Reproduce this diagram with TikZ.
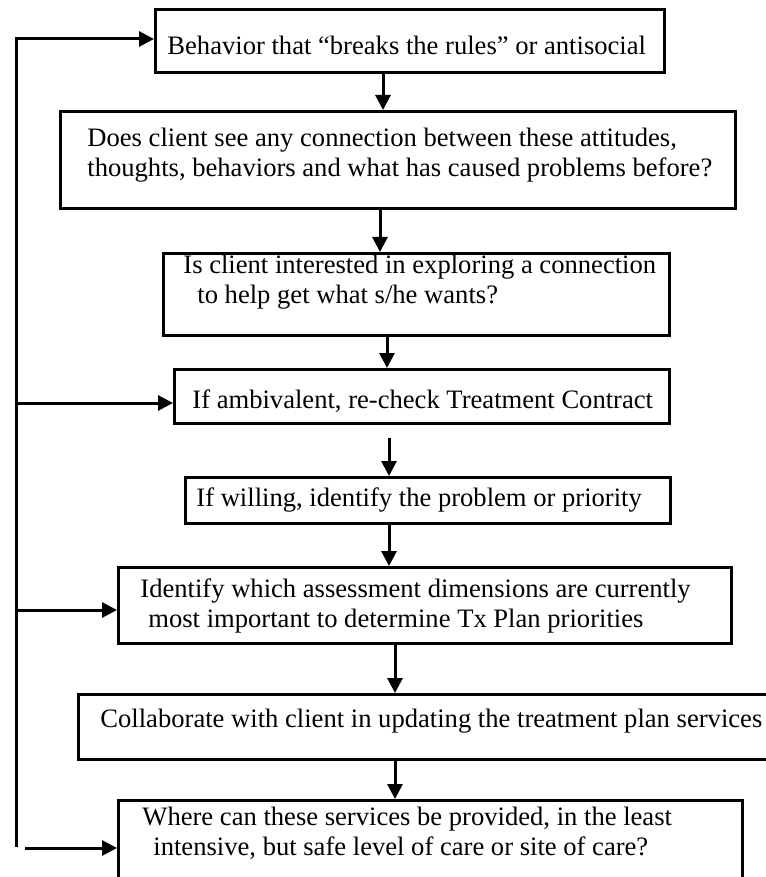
\documentclass[tikz,border=0pt]{standalone}
\usepackage{fontspec}
\setmainfont{Liberation Serif}
\usetikzlibrary{arrows.meta}

\begin{document}
\begin{tikzpicture}[x=0.5pt, y=-0.5pt,
    box/.style={draw, line width=1.5pt, inner sep=0pt, anchor=north west},
    txt/.style={anchor=base west, inner sep=0pt, align=left, font=\fontsize{13.3}{15}\selectfont},
    arr/.style={line width=1.5pt, -{Triangle[length=7.5pt,width=7.5pt]}}]
    \useasboundingbox (0,0) rectangle (765,877);

    % Boxes
    \node[box, minimum width=254.5pt, minimum height=31.5pt] (b1) at (154,8) {};
    \node[box, minimum width=337.5pt, minimum height=48.5pt] (b2) at (59,110) {};
    \node[box, minimum width=253pt, minimum height=41pt] (b3) at (162,252) {};
    \node[box, minimum width=247.5pt, minimum height=27pt] (b4) at (173,368) {};
    \node[box, minimum width=242.5pt, minimum height=23pt] (b5) at (184,476) {};
    \node[box, minimum width=306.5pt, minimum height=38pt] (b6) at (117,566) {};
    \node[box, minimum width=345.5pt, minimum height=32.5pt] (b7) at (77,693) {};
    \node[box, minimum width=312pt, minimum height=40.5pt] (b8) at (117,799) {};

    % Texts (base = last line)
    \node[txt] (t1) at (167,55) {Behavior that “breaks the rules” or antisocial};
    \node[txt] (t2) at (87,177) {Does client see any connection between these attitudes,\\thoughts, behaviors and what has caused problems before?};
    \node[txt] (t3) at (183,303) {Is client interested in exploring a connection\\\hspace*{7pt}to help get what s/he wants?};
    \node[txt] (t4) at (192,408) {If ambivalent, re-check Treatment Contract};
    \node[txt] (t5) at (196,506) {If willing, identify the problem or priority};
    \node[txt] (t6) at (140,627) {Identify which assessment dimensions are currently\\\hspace*{4pt}most important to determine Tx Plan priorities};
    \node[txt] (t7) at (100,727) {Collaborate with client in updating the treatment plan services};
    \node[txt] (t8) at (142,855) {Where can these services be provided, in the least\\\hspace*{5.5pt}intensive, but safe level of care or site of care?};

    % Main flow
    \draw[arr] (b1.south -| 383,0) -- (b2.north -| 383,0);
    \draw[arr] (b2.south -| 380,0) -- (b3.north -| 380,0);
    \draw[arr] (b3.south -| 387,0) -- (b4.north -| 387,0);
    \draw[arr, shorten <=6.5pt] (b4.south -| 389,0) -- (b5.north -| 389,0);
    \draw[arr] (b5.south -| 389,0) -- (b6.north -| 389,0);
    \draw[arr] (b6.south -| 395,0) -- (b7.north -| 395,0);
    \draw[arr] (b7.south -| 395,0) -- (b8.north -| 395,0);

    % Loop back on the left
    \coordinate (ltop) at (16,39);
    \coordinate (lbot) at (16,847);
    \coordinate (l4) at (16,403);
    \coordinate (l6) at (16,610);
    \coordinate (l8) at (25,848);
    \draw[arr] (lbot) -- (ltop) -- (ltop -| b1.west);
    \draw[arr] (l4) -- (l4 -| b4.west);
    \draw[arr] (l6) -- (l6 -| b6.west);
    \draw[arr] (l8) -- (l8 -| b8.west);
\end{tikzpicture}
\end{document}
